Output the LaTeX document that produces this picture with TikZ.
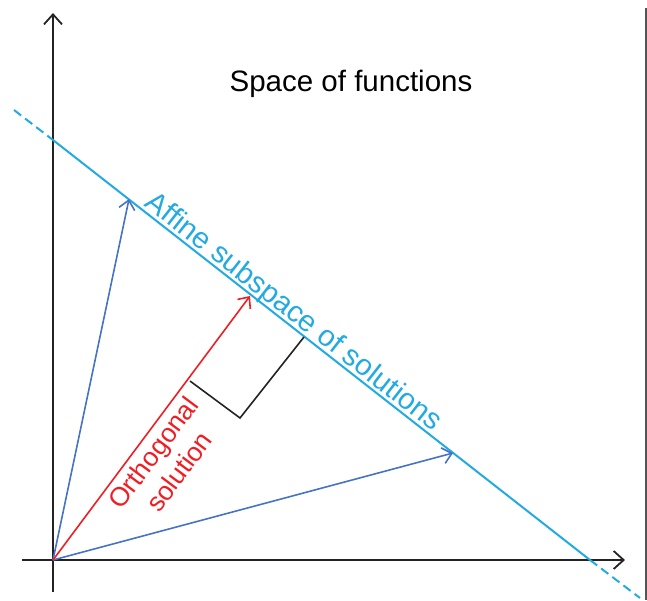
\documentclass[tikz,border=0pt]{standalone}
\usepackage{fontspec}
\setmainfont{Liberation Sans}
\usetikzlibrary{arrows.meta}
\definecolor{lineblue}{RGB}{35,170,225}
\definecolor{vecblue}{RGB}{70,115,195}
\definecolor{vecred}{RGB}{240,30,35}
\definecolor{axisgray}{RGB}{35,35,35}
\definecolor{framegray}{RGB}{85,85,85}
\begin{document}
\begin{tikzpicture}[x=1pt,y=-1pt,
  axisline/.style={draw=axisgray, line width=1.8pt, -{Straight Barb[length=10pt,width=18pt]}},
  affline/.style={draw=lineblue, line width=2pt},
  affdash/.style={draw=lineblue, line width=2pt, dash pattern=on 9pt off 5pt},
  vecline/.style={line width=1.6pt, -{Straight Barb[length=9pt,width=16pt]}},
  label/.style={inner sep=0pt, font=\fontsize{29.5}{34}\selectfont},
  rightmark/.style={draw=axisgray, line width=1.6pt}]
\useasboundingbox (0,0) rectangle (647,600);
% coordinates
\coordinate (O) at (53,560);
\coordinate (Ytip) at (53,13);
\coordinate (Ybot) at (53,592);
\coordinate (Xl) at (22,560);
\coordinate (Xtip) at (625,560);
\coordinate (Ldl) at (14,110);
\coordinate (La) at (53,140);
\coordinate (Lb) at (590,560);
\coordinate (Ldr) at (640,598);
\coordinate (V1) at (129,199);
\coordinate (V2) at (453,453);
\coordinate (Vr) at (250,296);
\coordinate (R1) at (190,381);
\coordinate (R2) at (240,418);
\coordinate (R3) at (304,337);
\coordinate (F1) at (646,8);
\coordinate (F2) at (646,600);
% frame edge
\draw[framegray, line width=1.2pt] (F1) -- (F2);
% axes
\draw[axisline] (Ybot) -- (Ytip);
\draw[axisline] (Xl) -- (Xtip);
% affine line
\draw[affdash] (Ldl) -- (La);
\draw[affline] (La) -- (Lb);
\draw[affdash] (Lb) -- (Ldr);
% vectors
\draw[vecline, vecblue] (O) -- (V1);
\draw[vecline, vecblue] (O) -- (V2);
\draw[vecline, vecred] (O) -- (Vr);
% right angle marker
\draw[rightmark] (R1) -- (R2) -- (R3);
% labels
\node[label, anchor=base] (title) at (351,91) {Space of functions};
\node[label, anchor=base west, rotate=-38, text=lineblue] (afflabel) at (143.5,205.6) {Affine subspace of solutions};
\node[inner sep=0pt, font=\fontsize{26.5}{32}\selectfont, align=center, rotate=53.3, text=vecred] (orthlabel) at (166,462) {Orthogonal\\solution};
\end{tikzpicture}
\end{document}
